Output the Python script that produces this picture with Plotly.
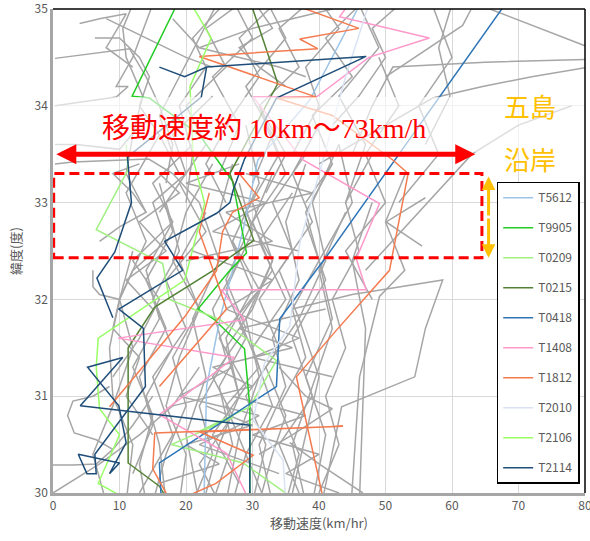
import plotly.graph_objects as go

# ---------------- axis ticks ----------------
x_ticks = [0, 10, 20, 30, 40, 50, 60, 70, 80]
y_ticks = [30, 31, 32, 33, 34, 35]

# ---------------- highlighted typhoons (speed km/h, latitude deg) ----------------
T5612_speed = [22.7, 23.1, 25.1, 28.6, 30.8, 38.6, 45.8, 47.0]
T5612_lat = [29.9, 31.1, 31.8, 32.72, 33.44, 34.06, 35.0, 35.15]

T9905_speed = [29.6, 29.6, 28.8, 24.3, 21.8, 26.6, 29.1, 27.0, 22.0, 14.5, 11.9, 18.3]
T9905_lat = [29.9, 30.89, 31.49, 31.79, 31.9, 32.3, 32.48, 33.22, 33.7, 34.08, 34.1, 35.0]

T0209_speed = [36.0, 28.6, 17.8, 27.1, 22.1, 29.6, 33.6, 25.1, 17.5, 16.5, 6.5, 11.3, 11.0]
T0209_lat = [29.95, 30.31, 30.5, 30.78, 30.64, 30.89, 31.37, 31.79, 32.0, 32.37, 32.72, 33.34, 33.6]

T0215_speed = [17.5, 16.0, 11.3, 11.3, 15.3, 24.1, 26.1, 30.2, 26.6, 33.8, 29.8]
T0215_lat = [29.9, 30.07, 30.31, 31.5, 31.92, 32.3, 32.41, 32.61, 33.3, 34.23, 35.05]

T0418_speed = [16.3, 16.0, 33.6, 34.1, 41.1, 68.0]
T0418_lat = [29.9, 30.31, 31.1, 31.8, 32.44, 35.05]

T1408_speed = [29.3, 26.1, 16.0, 27.3, 9.8, 28.8, 25.3, 47.1, 45.6, 49.1, 37.6, 30.1, 39.6, 47.5, 56.6, 43.1, 45.0]
T1408_lat = [29.95, 30.41, 30.81, 31.4, 31.6, 31.79, 32.1, 32.1, 32.42, 32.99, 33.44, 34.09, 34.09, 34.5, 34.7, 34.92, 35.1]

T1812_speed = [40.6, 36.6, 42.6, 50.6, 53.4, 51.1, 42.0, 33.6, 39.6, 22.0, 39.8, 37.1, 46.0, 34.0, None,
               17.8, 15.0, 15.3, 37.1, 43.6, 22.1, 30.1, 24.5, 18.0, None,
               8.5, 19.8, 24.6, 25.5, 27.0, 31.0, 28.0, None,
               16.0, 26.1, 24.1, 22.0, 23.5]
T1812_lat = [29.95, 31.2, 31.68, 32.3, 33.3, 33.44, 33.9, 34.08, 34.09, 34.51, 34.59, 34.69, 34.8, 35.1, None,
             29.9, 30.25, 30.62, 30.67, 30.69, 30.63, 30.39, 30.1, 29.9, None,
             30.89, 31.82, 32.3, 32.7, 32.9, 33.05, 33.3, None,
             31.1, 31.9, 32.3, 32.7, 33.1]

T2010_speed = [35.0, 34.6, 30.1, 31.8, 35.6, 37.1, 40.6, 44.0, 47.5]
T2010_lat = [29.9, 30.34, 30.75, 31.34, 31.72, 32.58, 33.44, 34.3, 35.05]

T2106_speed = [12.0, 6.8, 10.0, 7.0, 6.5, 6.8, 19.8, 22.8, 21.1, 20.6, 23.8, 20.8]
T2106_lat = [29.9, 30.1, 30.6, 30.87, 31.3, 31.6, 32.2, 32.99, 33.44, 34.2, 34.7, 35.05]

T2114_speed = [29.6, 29.6, 4.1, 10.5, 5.2, 9.9, 11.0, 8.5, 10.0, 3.8, 5.1, 6.5, 6.3, 13.9, 13.6, 9.9,
               19.5, 16.8, 24.6, 26.6, 27.1, 28.8, 33.6, 47.1, 23.1, 19.8, 16.0, None,
               9.0, 6.6, 9.3, 11.8, 11.2, 22.3, 23.1]
T2114_lat = [29.9, 30.7, 30.9, 31.4, 31.3, 30.9, 30.52, 30.2, 30.31, 30.4, 30.2, 30.2, 30.4, 31.1, 31.7, 31.9,
             32.3, 32.6, 32.89, 33.0, 33.13, 33.45, 34.08, 34.51, 34.4, 34.3, 34.4, None,
             31.81, 32.22, 32.49, 33.0, 33.47, 34.09, 34.4]

# ---------------- other typhoons (grey), each (speeds, lats) ----------------
gray_slow = [
    ([8, 6, 9, 12, 10, 14, 11, 16], [29.9, 30.4, 30.9, 31.5, 32.0, 32.6, 33.1, 33.7]),
    ([8.5, 6, 3, 2.2, 3.2, 6.5, 9], [31.1, 31.0, 30.95, 30.8, 30.62, 30.55, 30.45]),
    ([0, 3, 6.5, 9, 12, 15], [30.29, 30.29, 30.3, 30.45, 30.7, 31.0]),
    ([0, 7, 13, 18, 22], [30.0, 30.3, 30.6, 30.9, 31.3]),
    ([6.3, 10, 13, 14.5, 13, 16, 19], [34.7, 34.7, 34.5, 34.3, 34.0, 33.7, 33.3]),
    ([0.3, 11.5, 14, 16, 18, 17], [34.49, 34.59, 34.3, 34.0, 33.6, 33.2]),
    ([0.3, 2.5, 9.5, 11.3, 9.5, 12, 15], [34.0, 34.02, 34.09, 34.2, 34.2, 34.5, 35.05]),
    ([0.3, 3, 14.4, 18, 22], [33.4, 33.42, 33.45, 33.3, 33.0]),
    ([0.3, 3.5, 10, 13], [33.6, 33.6, 33.55, 33.8]),
    ([12, 10.5, 11, 13.5, 12, 11, 14], [35.05, 34.8, 34.5, 34.1, 33.7, 33.3, 32.9]),
    ([6, 6, 7, 10, 9, 13, 11, 15], [32.3, 32.13, 32.05, 32.0, 31.7, 31.4, 31.0, 30.6]),
    ([11, 12, 9, 8.5, 10, 12], [29.9, 30.5, 31.0, 31.5, 32.0, 32.5]),
    ([14, 13, 15, 12, 16, 14, 18], [29.9, 30.3, 30.8, 31.3, 31.8, 32.3, 32.8]),
    ([10, 12, 17, 15, 20, 18, 24], [32.0, 32.3, 32.6, 33.0, 33.3, 33.7, 34.1]),
    ([17, 16, 14, 18, 15, 19, 17], [29.9, 30.5, 31.0, 31.5, 32.0, 32.5, 33.0]),
    ([19, 20, 17, 19, 22, 18, 20, 24], [29.9, 30.4, 30.9, 31.4, 31.9, 32.4, 32.9, 33.4]),
    ([20, 21, 19, 23, 21, 25, 22], [33.0, 33.5, 34.0, 34.4, 34.7, 35.0, 35.1]),
    ([9, 13, 16, 12, 18, 15, 21], [31.2, 31.6, 32.0, 32.4, 32.8, 33.2, 33.6]),
    ([15, 11, 17, 13, 19, 16], [31.9, 32.2, 32.5, 32.8, 33.1, 33.3]),
    ([7, 10, 14, 12, 9, 13], [32.6, 32.75, 32.9, 33.1, 33.3, 33.4]),
    ([13, 18, 15, 20, 17, 23, 19], [30.0, 30.6, 31.2, 31.7, 32.2, 32.7, 33.2]),
    ([4, 7, 11, 8, 12], [34.85, 34.9, 34.95, 34.6, 34.4]),
    ([15, 17, 20, 18, 22, 19, 23], [29.9, 30.4, 30.9, 31.4, 31.9, 32.4, 32.9]),
    ([12, 15, 13, 17, 14, 18, 16], [30.2, 30.7, 31.2, 31.7, 32.2, 32.7, 33.2]),
    ([16, 25, 20, 30, 23], [30.1, 30.3, 30.5, 30.7, 30.9]),
    ([8, 11, 14, 17, 20, 24], [34.9, 34.8, 34.7, 34.6, 34.5, 34.4]),
    ([18, 16, 19, 22, 25], [33.5, 33.9, 34.3, 34.7, 35.1]),
    ([16, 19, 23, 20, 26, 23, 29], [32.9, 33.2, 33.6, 34.0, 34.4, 34.8, 35.1]),
]

gray_mid = [
    ([21, 24, 22, 26, 24, 28, 25, 27], [29.9, 30.4, 30.9, 31.4, 31.9, 32.4, 32.9, 33.4]),
    ([23, 25, 28, 26, 30, 27, 31, 29], [30.0, 30.5, 31.0, 31.6, 32.1, 32.6, 33.2, 33.8]),
    ([25, 22, 27, 24, 29, 26, 30, 33], [29.9, 30.3, 30.8, 31.2, 31.7, 32.2, 32.8, 33.3]),
    ([27, 29, 26, 31, 28, 33, 30, 35, 32], [29.9, 30.4, 30.9, 31.3, 31.8, 32.3, 32.8, 33.3, 33.8]),
    ([28, 26, 30, 33, 29, 34, 31], [31.0, 31.5, 31.9, 32.4, 32.9, 33.5, 34.0]),
    ([30, 32, 29, 34, 31, 36, 33, 38], [29.9, 30.5, 31.0, 31.5, 32.0, 32.5, 33.0, 33.5]),
    ([31, 33, 35, 32, 37, 34, 39, 36, 40], [29.9, 30.4, 30.8, 31.3, 31.8, 32.3, 32.8, 33.3, 33.8]),
    ([33, 31, 35, 33, 37, 35, 38], [29.9, 30.5, 31.1, 31.6, 32.2, 32.8, 33.4]),
    ([35, 37, 34, 38, 36, 40, 38, 42], [29.9, 30.4, 30.9, 31.4, 31.9, 32.4, 32.9, 33.4]),
    ([36, 38, 40, 37, 41, 39, 43], [30.0, 30.6, 31.2, 31.8, 32.4, 33.0, 33.6]),
    ([38, 36, 39, 42, 40, 44], [29.9, 30.5, 31.1, 31.7, 32.3, 32.9]),
    ([39, 41, 38, 42, 40, 45, 43], [29.9, 30.6, 31.2, 31.8, 32.4, 33.0, 33.6]),
    ([40, 43, 41, 44, 42, 46, 44, 48], [30.0, 30.5, 31.0, 31.5, 32.0, 32.5, 33.0, 33.5]),
    ([18, 30, 24, 36, 28, 41], [30.9, 31.1, 31.3, 31.5, 31.7, 31.9]),
    ([34, 22, 31, 19, 27], [30.2, 30.5, 30.8, 31.0, 31.3]),
    ([42, 30, 37, 26, 33, 21], [31.2, 31.4, 31.6, 31.9, 32.2, 32.5]),
    ([20, 33, 26, 39, 29], [32.4, 32.6, 32.9, 33.1, 33.3]),
    ([37, 24, 32, 20, 28], [32.5, 32.7, 33.0, 33.2, 33.4]),
    ([24, 27, 25, 29, 26, 30, 28], [29.9, 30.5, 31.1, 31.6, 32.1, 32.7, 33.2]),
    ([26, 28, 31, 29, 33, 30], [29.9, 30.6, 31.2, 31.8, 32.4, 33.0]),
    ([22, 20, 23, 21, 25, 22], [29.9, 30.6, 31.2, 31.8, 32.4, 33.0]),
    ([32, 29, 33, 30, 35, 31, 36], [29.9, 30.4, 30.9, 31.5, 32.0, 32.6, 33.1]),
    ([37, 34, 39, 36, 41, 38], [30.0, 30.5, 31.0, 31.6, 32.2, 32.8]),
    ([28, 24, 29, 25, 31, 27], [30.1, 30.6, 31.1, 31.6, 32.1, 32.6]),
    ([43, 35, 40, 30, 38, 27], [30.0, 30.2, 30.4, 30.6, 30.8, 31.0]),
]

gray_fast = [
    ([35.6, 40, 46.6], [30.52, 30.3, 30.0]),
    ([40.6, 43.4, 54.4, 56, 58.6, 45, 36], [29.95, 30.89, 31.2, 31.7, 32.2, 32.05, 31.9]),
    ([44.9, 46.1, 49.1, 52.9, 50, 53], [29.95, 31.2, 32.03, 32.3, 32.8, 33.3]),
    ([46.1, 46.6, 47, 45, 48], [29.95, 31.0, 31.7, 32.4, 33.0]),
    ([31, 36, 42, 38, 34], [30.4, 30.6, 30.87, 31.0, 31.3]),
    ([45, 48, 51.1, 65, 80.5], [33.5, 34.0, 34.4, 34.45, 34.48]),
    ([40, 50, 57.1, 64.6, 72, 80.5], [33.4, 33.8, 34.08, 34.2, 34.3, 34.4]),
    ([50, 61.6, 62.9, 65.7, 79.6, 81], [34.3, 34.83, 35.0, 35.0, 34.63, 34.6]),
    ([52, 58, 55, 60, 57], [33.0, 33.5, 34.0, 34.5, 35.05]),
    ([48, 44, 50, 47, 52, 49], [32.0, 32.5, 33.0, 33.5, 34.0, 34.5]),
    ([44, 47, 43, 49, 46], [33.0, 33.6, 34.1, 34.6, 35.05]),
    ([36, 40, 38, 43, 40], [33.5, 34.0, 34.4, 34.8, 35.1]),
    ([30, 33, 29, 35, 32], [33.2, 33.7, 34.2, 34.7, 35.1]),
    ([25, 28, 24, 30, 27], [33.3, 33.8, 34.3, 34.7, 35.1]),
    ([22, 26, 30, 36, 42], [34.6, 34.7, 34.8, 34.9, 35.0]),
    ([18, 22, 28, 34, 38], [34.9, 34.6, 34.5, 34.4, 34.3]),
    ([56, 50.1, 55.5], [33.05, 32.8, 32.55]),
    ([47, 55, 63, 70, 78], [32.3, 32.9, 33.5, 33.8, 34.0]),
    ([56, 59.7, 58, 60], [33.6, 34.1, 34.6, 35.05]),
    ([26, 23, 27, 31, 28, 34], [33.0, 33.4, 33.9, 34.3, 34.7, 35.1]),
    ([32, 35, 31, 37, 34, 39], [33.1, 33.5, 34.0, 34.4, 34.8, 35.1]),
    ([38, 42, 39, 45, 41, 47], [33.0, 33.4, 33.9, 34.3, 34.7, 35.1]),
    ([42, 46, 50, 48, 53], [33.8, 34.1, 34.5, 34.8, 35.1]),
    ([35, 31, 28, 33, 30], [34.2, 34.4, 34.6, 34.8, 35.1]),
]

series = [
    ("T5612", T5612_speed, T5612_lat, "#9dc3e6"),
    ("T9905", T9905_speed, T9905_lat, "#22cc22"),
    ("T0209", T0209_speed, T0209_lat, "#a0f080"),
    ("T0215", T0215_speed, T0215_lat, "#548235"),
    ("T0418", T0418_speed, T0418_lat, "#2e75b6"),
    ("T1408", T1408_speed, T1408_lat, "#ff99cc"),
    ("T1812", T1812_speed, T1812_lat, "#f47b4f"),
    ("T2010", T2010_speed, T2010_lat, "#dae3f3"),
    ("T2106", T2106_speed, T2106_lat, "#99ff66"),
    ("T2114", T2114_speed, T2114_lat, "#1f4e79"),
]

fig = go.Figure()
for group in (gray_slow, gray_mid, gray_fast):
    for sp, la in group:
        fig.add_trace(go.Scatter(x=sp, y=la, mode="lines",
                                 line=dict(color="#a6a6a6", width=1.5),
                                 showlegend=False, hoverinfo="skip"))

for name, sp, la, col in series:
    fig.add_trace(go.Scatter(x=sp, y=la, mode="lines", name=name, legendgroup=name,
                             line=dict(color=col, width=1.5), connectgaps=False))

font_jp = "Noto Sans CJK JP, sans-serif"
axis_common = dict(showgrid=True, gridcolor="#d9d9d9", gridwidth=1, zeroline=False,
                   showline=True, linecolor="#a6a6a6", linewidth=2.5, ticks="",
                   automargin=False, ticklabeloverflow="allow",
                   tickfont=dict(size=12, color="#595959", family=font_jp))

fig.update_layout(
    width=590, height=541,
    margin=dict(l=53, r=5, t=9, b=48),
    plot_bgcolor="white", paper_bgcolor="white",
    xaxis=dict(range=[0, 80.0001], tickvals=x_ticks, **axis_common,
               title=dict(text="移動速度(km/hr)", font=dict(size=13, color="#595959", family=font_jp), standoff=6)),
    yaxis=dict(range=[29.9999, 35.0001], tickvals=y_ticks, **axis_common,
               title=dict(text="緯度(度)", font=dict(size=13, color="#595959", family=font_jp), standoff=10)),
    legend=dict(x=0.834, y=0.643, xanchor="left", yanchor="top",
                bordercolor="black", borderwidth=1.5, bgcolor="white",
                font=dict(size=12, color="#595959", family=font_jp),
                tracegroupgap=11, itemwidth=30),
    showlegend=True,
)

shapes = [
    dict(type="rect", xref="x", yref="y", x0=0, x1=80, y0=33.52, y1=34.09,
         fillcolor="rgba(255,255,255,0.62)", line=dict(width=0), layer="above"),
    dict(type="rect", xref="x", yref="y", x0=0.1, x1=64.5, y0=32.43, y1=33.30,
         line=dict(color="#ff0000", width=3, dash="10px,5px"), layer="above"),
    dict(type="line", xref="paper", yref="paper", x0=0, x1=1, y0=1, y1=1,
         line=dict(color="black", width=1.5), layer="above"),
    dict(type="line", xref="paper", yref="paper", x0=1, x1=1, y0=0, y1=1,
         line=dict(color="black", width=1.5), layer="above"),
]
fig.update_layout(shapes=shapes)

annotations = [
    dict(x=31.8, y=33.77, xref="x", yref="y", text="移動速度約 10km～73km/h", showarrow=False,
         font=dict(size=28, color="#ff0000", family="Liberation Serif, Noto Sans CJK JP, serif")),
    dict(x=63.5, y=33.5, ax=32, ay=33.5, xref="x", yref="y", axref="x", ayref="y", text="",
         showarrow=True, arrowhead=2, arrowsize=0.8, arrowwidth=5, arrowcolor="#ff0000", standoff=0),
    dict(x=0.5, y=33.5, ax=32, ay=33.5, xref="x", yref="y", axref="x", ayref="y", text="",
         showarrow=True, arrowhead=2, arrowsize=0.8, arrowwidth=5, arrowcolor="#ff0000", standoff=0),
    dict(x=65.5, y=33.27, ax=65.5, ay=32.85, xref="x", yref="y", axref="x", ayref="y", text="",
         showarrow=True, arrowhead=2, arrowsize=0.9, arrowwidth=3, arrowcolor="#ffc000", standoff=0),
    dict(x=65.5, y=32.43, ax=65.5, ay=32.85, xref="x", yref="y", axref="x", ayref="y", text="",
         showarrow=True, arrowhead=2, arrowsize=0.9, arrowwidth=3, arrowcolor="#ffc000", standoff=0),
    dict(x=71.8, y=34.0, xref="x", yref="y", text="五島", showarrow=False,
         font=dict(size=26, color="#ffc000", family=font_jp)),
    dict(x=71.8, y=33.46, xref="x", yref="y", text="沿岸", showarrow=False,
         font=dict(size=26, color="#ffc000", family=font_jp)),
]
fig.update_layout(annotations=annotations)

fig.write_html("out.html", config={"displayModeBar": False},
               post_script="document.body.style.margin='0';document.body.style.padding='0';")
